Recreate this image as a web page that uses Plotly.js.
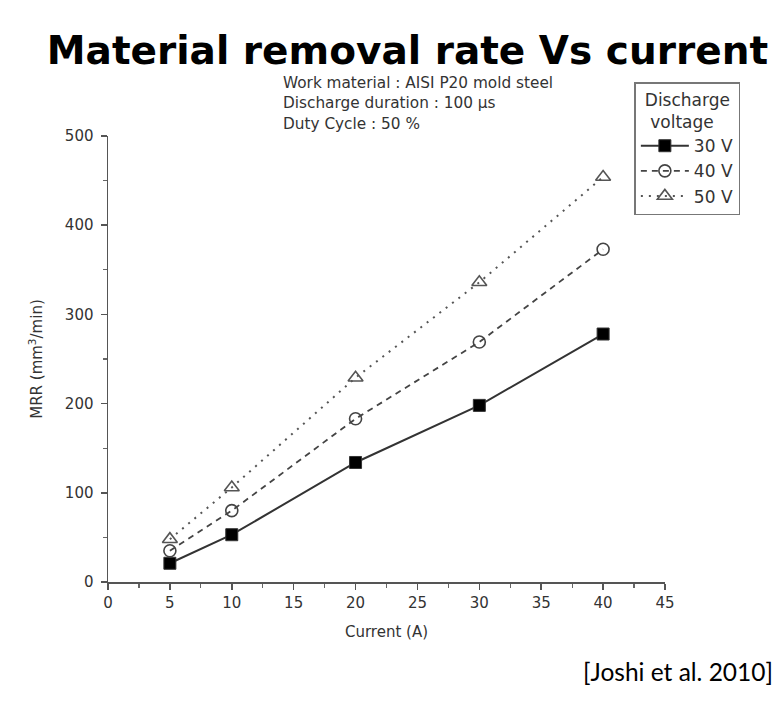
<!DOCTYPE html>
<html>
<head>
<meta charset="utf-8">
<script src="https://cdn.plot.ly/plotly-3.0.1.min.js"></script>
<style>html,body{margin:0;padding:0;background:#fff;}#chart{width:779px;height:701px;}</style>
</head>
<body>
<div id="chart"></div>
<script>
const current = [5, 10, 20, 30, 40];
const mrr30V = [21, 53, 134, 198, 278];
const mrr40V = [35, 80, 183, 269, 373];
const mrr50V = [48, 106, 229, 336, 454];
const seriesNames = ["30 V", "40 V", "50 V"];
const xTicks = [0, 5, 10, 15, 20, 25, 30, 35, 40, 45];
const yTicks = [0, 100, 200, 300, 400, 500];
const notes = ["Work material : AISI P20 mold steel", "Discharge duration : 100 \u00b5s", "Duty Cycle : 50 %"];

const FONT = 'DejaVu Sans, Liberation Sans, Arial, sans-serif';

const traces = [
  {x: current, y: mrr30V, name: seriesNames[0], mode: 'lines+markers',
   line: {color: '#333', width: 2, dash: 'solid'},
   marker: {symbol: 'square', size: 12, color: '#000', line: {color: '#333', width: 1}}},
  {x: current, y: mrr40V, name: seriesNames[1], mode: 'lines+markers',
   line: {color: '#444', width: 1.8, dash: '6px,5px'},
   marker: {symbol: 'circle-open', size: 12, color: '#444', line: {width: 1.6}}},
  {x: current, y: mrr50V, name: seriesNames[2], mode: 'lines+markers',
   line: {color: '#555', width: 2, dash: '2px,6px'},
   marker: {symbol: 'triangle-up-open', size: 13, color: '#555', line: {width: 1.6}}}
];

const axisFont = {family: FONT, size: 15, color: '#333'};

const annotations = notes.map((t, i) => ({
  text: t, xref: 'paper', yref: 'paper', x: 0.31, y: 1.118 - i * 0.045,
  xanchor: 'left', yanchor: 'middle', showarrow: false,
  font: {family: FONT, size: 15.3, color: '#333'}
}));
annotations.push({
  text: '[Joshi et al. 2010]', xref: 'paper', yref: 'paper', x: 1.198, y: -0.2,
  xanchor: 'right', yanchor: 'middle', showarrow: false,
  font: {family: 'Lato, Open Sans, sans-serif', size: 24.5, color: '#000'}
});

const layout = {
  width: 779, height: 701,
  margin: {l: 108, r: 114, t: 136, b: 119},
  paper_bgcolor: '#fff', plot_bgcolor: '#fff',
  title: {text: 'Material removal rate Vs current', x: 0.523, xanchor: 'center', y: 0.928, yanchor: 'middle',
          font: {family: FONT, size: 39, color: '#000', weight: 'bold'}},
  xaxis: {
    range: [0, 45], tickvals: xTicks, ticktext: xTicks.map(String),
    showline: true, linecolor: '#555', linewidth: 1.5, mirror: false,
    ticks: 'outside', ticklen: 6, tickwidth: 1.5, tickcolor: '#555',
    minor: {dtick: 2.5, ticks: 'outside', ticklen: 4, tickwidth: 1.2, tickcolor: '#666'},
    showgrid: false, zeroline: false, tickfont: axisFont,
    title: {text: 'Current (A)', font: axisFont, standoff: 16}
  },
  yaxis: {
    range: [0, 500], tickvals: yTicks, ticktext: yTicks.map(String),
    showline: true, linecolor: '#555', linewidth: 1.5, mirror: false,
    ticks: 'outside', ticklen: 6, tickwidth: 1.5, tickcolor: '#555',
    minor: {dtick: 50, ticks: 'outside', ticklen: 4, tickwidth: 1.2, tickcolor: '#666'},
    showgrid: false, zeroline: false, tickfont: axisFont, ticklabelstandoff: 4,
    title: {text: 'MRR (mm<sup>3</sup>/min)', font: axisFont, standoff: 18}
  },
  showlegend: true,
  legend: {
    x: 0.945, y: 1.12, xanchor: 'left', yanchor: 'top',
    bgcolor: '#fff', bordercolor: '#777', borderwidth: 1.5,
    font: {family: FONT, size: 17, color: '#333'},
    title: {text: 'Discharge<br>\u00a0voltage', side: 'top center', font: {family: FONT, size: 17, color: '#333'}},
    tracegroupgap: 0, itemwidth: 48
  },
  annotations: annotations
};

Plotly.newPlot('chart', traces, layout, {displayModeBar: false, staticPlot: true});
</script>
</body>
</html>
